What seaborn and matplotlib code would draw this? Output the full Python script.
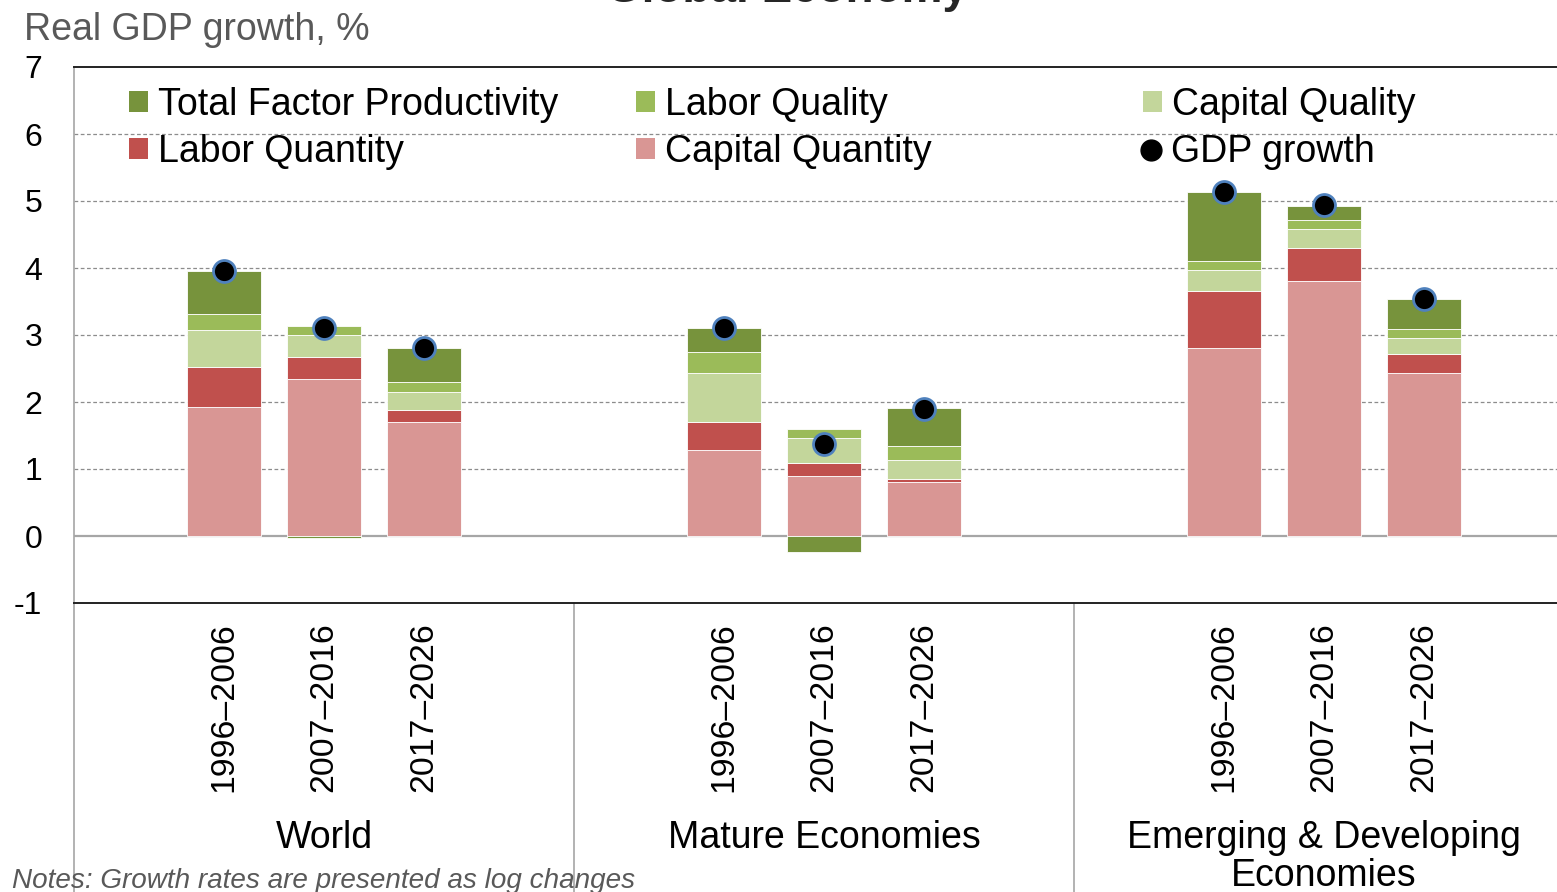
import matplotlib
matplotlib.use("Agg")
import matplotlib.pyplot as plt
import matplotlib.transforms as mtransforms
from matplotlib.patches import Patch
from matplotlib.lines import Line2D
import numpy as np
import pandas as pd
import seaborn as sns

# ---------------- data ----------------
groups = ["World", "Mature Economies", "Emerging & Developing\nEconomies"]
periods = ["1996\u20132006", "2007\u20132016", "2017\u20132026"]
capital_quantity = [1.92, 2.34, 1.70, 1.28, 0.90, 0.80, 2.81, 3.81, 2.44]
labor_quantity = [0.60, 0.33, 0.18, 0.42, 0.19, 0.05, 0.84, 0.49, 0.28]
capital_quality = [0.56, 0.33, 0.27, 0.74, 0.37, 0.29, 0.32, 0.28, 0.23]
labor_quality = [0.23, 0.13, 0.15, 0.30, 0.14, 0.21, 0.13, 0.13, 0.14]
tfp = [0.64, -0.03, 0.51, 0.37, -0.235, 0.56, 1.03, 0.21, 0.44]
gdp_growth = [3.96, 3.10, 2.80, 3.11, 1.38, 1.90, 5.14, 4.94, 3.54]
y_ticks = [-1, 0, 1, 2, 3, 4, 5, 6, 7]

series_names = ["Capital Quantity", "Labor Quantity", "Capital Quality",
                "Labor Quality", "Total Factor Productivity"]
series_vals = [capital_quantity, labor_quantity, capital_quality, labor_quality, tfp]
colors = {"Total Factor Productivity": "#77933C", "Labor Quality": "#9BBB59",
          "Capital Quality": "#C3D69B", "Labor Quantity": "#C0504D",
          "Capital Quantity": "#D99694"}

# ---------------- style ----------------
sns.set_style("white")
plt.rcParams["font.family"] = ["Liberation Sans", "DejaVu Sans"]
plt.rcParams["axes.unicode_minus"] = False
plt.rcParams["text.color"] = "black"
plt.rcParams["xtick.color"] = "black"
plt.rcParams["ytick.color"] = "black"
plt.rcParams["xtick.labelcolor"] = "black"
plt.rcParams["ytick.labelcolor"] = "black"

W, H = 1557, 892
fig = plt.figure(figsize=(W / 100, H / 100), dpi=100)
ax = fig.add_axes([74 / W, 1 - 603 / H, 1500 / W, 536 / H])

# slot positions: 5 slots per group, bars in middle three
positions = np.array([g * 5 + 1.5 + j for g in range(len(groups)) for j in range(len(periods))])

pos_bottom = np.zeros(len(positions))
for name, vals in zip(series_names, series_vals):
    vals = np.asarray(vals, dtype=float)
    bottom = np.where(vals >= 0, pos_bottom, 0.0)
    df = pd.DataFrame({"x": positions, "y": vals})
    sns.barplot(data=df, x="x", y="y", native_scale=True, width=0.74,
                color=colors[name], bottom=bottom, ax=ax, errorbar=None,
                edgecolor="white", linewidth=0.6, saturation=1, zorder=3)
    pos_bottom = pos_bottom + np.where(vals >= 0, vals, 0.0)

sns.scatterplot(x=positions, y=gdp_growth, ax=ax, color="black",
                edgecolor="#4F81BD", s=250, linewidth=2.0, zorder=6, legend=False)

# ---------------- axes ----------------
ax.set_xlim(0, 15)
ax.set_ylim(-1, 7)
ax.set_xlabel("")
ax.set_ylabel("")
ax.set_yticks(y_ticks)
ax.set_yticklabels([str(t) for t in y_ticks], fontsize=23, color="black")
ax.set_xticks(positions)
ax.set_xticklabels(periods * len(groups), rotation=90, fontsize=24.3, va="top",
                   color="black")
ax.tick_params(axis="both", length=0)
ax.tick_params(axis="y", pad=23)
ax.tick_params(axis="x", pad=14)

for gv in range(1, 7):
    ax.axhline(gv, color="#8c8c8c", lw=0.9, ls=(0, (3, 2)), zorder=1)
ax.axhline(0, color="#a6a6a6", lw=1.6, zorder=2)

for s in ["top", "bottom"]:
    ax.spines[s].set_color("#222222")
    ax.spines[s].set_linewidth(1.4)
ax.spines["right"].set_visible(False)
ax.spines["left"].set_color("#a6a6a6")
ax.spines["left"].set_linewidth(1.2)

# category separators extending below axis
trans = mtransforms.blended_transform_factory(ax.transData, ax.transAxes)
for xv in [0, 5, 10]:
    ax.plot([xv, xv], [0, -0.56], transform=trans, color="#a6a6a6", lw=1.2,
            clip_on=False, zorder=1)

# group labels
for g, name in enumerate(groups):
    ax.text(g * 5 + 2.5, -0.405, name, transform=trans, ha="center", va="top",
            fontsize=27, linespacing=1.08, color="black")

# ---------------- legend ----------------
leg_items = [
    ("Total Factor Productivity", 129, 105, "patch"),
    ("Labor Quality", 636, 105, "patch"),
    ("Capital Quality", 1143, 105, "patch"),
    ("Labor Quantity", 129, 152, "patch"),
    ("Capital Quantity", 636, 152, "patch"),
    ("GDP growth", 1142, 152, "dot"),
]
for label, lx, ly, kind in leg_items:
    if kind == "patch":
        h = Patch(facecolor=colors[label], edgecolor="none")
    else:
        h = Line2D([], [], marker="o", color="black", ls="none", markersize=15)
    lg = fig.legend([h], [label], loc="center left",
                    bbox_to_anchor=(lx / W, 1 - ly / H), bbox_transform=fig.transFigure,
                    frameon=False, fontsize=27, borderpad=0, borderaxespad=0,
                    handlelength=0.5, handleheight=0.5, handletextpad=0.28,
                    labelcolor="black")

# ---------------- texts ----------------
fig.text(24 / W, 1 - 40 / H, "Real GDP growth, %", fontsize=27, color="#595959",
         ha="left", va="baseline")
fig.text(787 / W, 1 - 2 / H, "Global Economy", fontsize=33, fontweight="bold",
         color="#262626", ha="center", va="baseline")
fig.text(12 / W, 4 / H, "Notes: Growth rates are presented as log changes",
         fontsize=20.1, style="italic", color="#595959", ha="left", va="baseline")

fig.savefig("out.png", dpi=100)
